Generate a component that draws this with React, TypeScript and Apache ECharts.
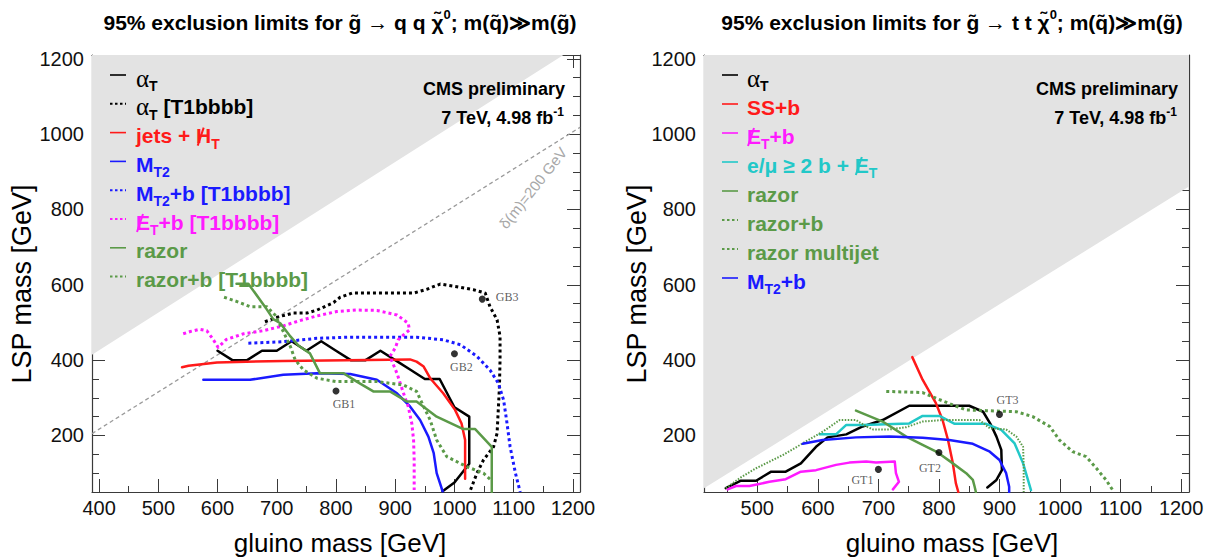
import React, { useEffect, useRef } from "react";
import * as echarts from "echarts";

// ---------- axes ----------
const leftXRange = [388, 1212];
const rightXRange = [412, 1213];
const yRange = [50, 1210];
const leftXLabels = [400, 500, 600, 700, 800, 900, 1000, 1100, 1200];
const leftXMinor = [400, 450, 500, 550, 600, 650, 700, 750, 800, 850, 900, 950, 1000, 1050, 1100, 1150, 1200];
const rightXLabels = [500, 600, 700, 800, 900, 1000, 1100, 1200];
const rightXMinor = [450, 500, 550, 600, 650, 700, 750, 800, 850, 900, 950, 1000, 1050, 1100, 1150, 1200];
const yLabels = [200, 400, 600, 800, 1000, 1200];
const yMinor = [50, 100, 150, 200, 250, 300, 350, 400, 450, 500, 550, 600, 650, 700, 750, 800, 850, 900, 950, 1000, 1050, 1100, 1150, 1200];

// ---------- left panel: gluino -> q q chi0 ----------
const leftKinematic = [[388, 414], [1212, 1238]];
const leftDeltaM = [[388, 205], [1212, 1018]];
const leftAlphaT = [[600, 425], [625, 400], [650, 400], [675, 425], [700, 425], [725, 450], [750, 425], [775, 450], [800, 425], [825, 400], [850, 400], [875, 425], [900, 400], [925, 375], [950, 350], [975, 350], [1000, 275], [1025, 250], [1025, 125], [1000, 75], [980, 52]];
const leftAlphaTbbbb = [[680, 502], [705, 516], [728, 525], [751, 525], [768, 533], [796, 553], [807, 567], [827, 578], [880, 578], [931, 578], [953, 588], [976, 602], [1004, 595], [1032, 587], [1052, 578], [1060, 542], [1072, 507], [1077, 463], [1077, 401], [1076, 330], [1074, 268], [1072, 206], [1066, 170], [1049, 135], [1038, 100], [1027, 55]];
const leftJetsHT = [[540, 381], [551, 385], [599, 394], [711, 398], [925, 402], [936, 396], [948, 383], [959, 352], [981, 312], [1001, 268], [1012, 232], [1018, 188], [1018, 85]];
const leftMT2 = [[576, 348], [655, 348], [711, 361], [768, 365], [824, 363], [869, 348], [903, 312], [925, 277], [942, 241], [956, 197], [965, 153], [970, 100], [980, 52]];
const leftMT2b = [[652, 445], [711, 449], [768, 458], [824, 461], [880, 461], [936, 461], [981, 454], [1010, 441], [1038, 410], [1060, 374], [1074, 339], [1083, 294], [1088, 241], [1094, 170], [1103, 100], [1111, 50]];
const leftMETb = [[542, 470], [554, 476], [570, 482], [582, 478], [593, 454], [601, 434], [615, 455], [644, 470], [677, 478], [711, 491], [739, 505], [767, 517], [801, 529], [835, 533], [869, 532], [903, 520], [922, 498], [924, 480], [914, 467], [905, 454], [900, 432], [891, 410], [903, 365], [914, 312], [922, 277], [928, 232], [931, 188], [932, 135], [932, 55]];
const leftRazor = [[632, 603], [652, 603], [680, 542], [694, 509], [706, 498], [723, 463], [737, 438], [756, 418], [773, 365], [813, 365], [835, 343], [863, 317], [891, 317], [920, 290], [936, 290], [970, 250], [1015, 217], [1035, 217], [1063, 170], [1063, 50]];
const leftRazorB = [[611, 567], [632, 556], [655, 542], [683, 542], [697, 520], [711, 476], [723, 436], [731, 401], [745, 374], [768, 352], [801, 343], [869, 343], [914, 334], [936, 317], [948, 277], [959, 241], [970, 188], [987, 144], [1021, 117], [1049, 100], [1063, 80]];
const leftPoints = [["GB1", 800, 318], ["GB2", 1000, 417], ["GB3", 1047, 562]];
const leftLegend = [
  "{a|α}{s|T}",
  "{a|α}{s|T}{n| [T1bbbb]}",
  "{n|jets + H\u0338}{s|T}",
  "{n|M}{s|T2}",
  "{n|M}{s|T2}{n|+b [T1bbbb]}",
  "{n|E\u0338}{s|T}{n|+b [T1bbbb]}",
  "{n|razor}",
  "{n|razor+b [T1bbbb]}",
];

// ---------- right panel: gluino -> t t chi0 ----------
const rightKinematic = [[412, 60], [1213, 861]];
const rightAlphaT = [[448, 60], [473, 80], [498, 80], [523, 104], [547, 104], [572, 126], [597, 170], [616, 195], [647, 203], [674, 224], [707, 241], [751, 279], [850, 279], [873, 263], [886, 228], [895, 197], [903, 162], [904, 108], [895, 82], [880, 62]];
const rightSSb = [[756, 408], [773, 348], [795, 286], [806, 241], [815, 188], [823, 126], [828, 73], [832, 50]];
const rightMETb = [[451, 57], [465, 66], [487, 66], [520, 77], [547, 84], [572, 104], [597, 108], [630, 122], [652, 128], [680, 131], [696, 128], [727, 131], [729, 100], [734, 77], [724, 57]];
const rightLepton = [[603, 203], [630, 203], [647, 228], [674, 228], [751, 232], [773, 252], [801, 252], [826, 231], [878, 231], [903, 215], [925, 179], [939, 126], [952, 55]];
const rightRazor = [[663, 266], [707, 237], [746, 197], [773, 175], [798, 155], [823, 126], [845, 100], [856, 82], [859, 64], [861, 50]];
const rightRazorB = [[713, 317], [773, 314], [795, 299], [823, 281], [845, 268], [878, 266], [928, 263], [955, 250], [983, 224], [999, 188], [1021, 157], [1043, 144], [1060, 113], [1076, 82], [1087, 55]];
const rightRazorMJ = [[448, 60], [473, 89], [498, 113], [542, 148], [575, 179], [608, 210], [636, 241], [663, 241], [680, 224], [691, 216], [718, 216], [746, 222], [773, 237], [806, 241], [867, 241], [884, 219], [911, 216], [928, 197], [939, 170], [940, 117], [940, 50]];
const rightMT2b = [[575, 178], [608, 188], [663, 195], [718, 197], [773, 194], [817, 188], [856, 178], [884, 157], [900, 135], [911, 100], [916, 64], [916, 50]];
const rightPoints = [["GT1", 700, 110], ["GT2", 800, 155], ["GT3", 900, 256]];
const rightLegend = [
  "{a|α}{s|T}",
  "{n|SS+b}",
  "{n|E\u0338}{s|T}{n|+b}",
  "{n|e/μ ≥ 2 b + E\u0338}{s|T}",
  "{n|razor}",
  "{n|razor+b}",
  "{n|razor multijet}",
  "{n|M}{s|T2}{n|+b}",
];

const leftTitle = "{t|95% exclusion limits for g\u0303 → q q χ\u0303}{p|0}{t|; m(q\u0303)≫m(g\u0303)}";
const rightTitle = "{t|95% exclusion limits for g\u0303 → t t χ\u0303}{p|0}{t|; m(q\u0303)≫m(g\u0303)}";
const xName = "gluino mass [GeV]";
const yName = "LSP mass [GeV]";
const cmsText = "CMS preliminary";
const lumiText = "{n|7 TeV, 4.98 fb}{p|-1}";
const deltaMText = "δ(m)=200 GeV";

// ---------- styles ----------
const SANS = "'Liberation Sans', Arial, Helvetica, sans-serif";
const SERIF = "'Liberation Serif', 'Times New Roman', serif";
const BLACK = "#000000";
const RED = "#ff1a1a";
const BLUE = "#1a1aff";
const MAGENTA = "#ff1aff";
const GREEN = "#5b9a48";
const CYAN = "#22c8c8";
const AXIS = "#3a3a3a";
const DOT: number[] = [3, 3];
const FINE: number[] = [1.5, 1.5];

const LG = { left: 92, top: 55, width: 488, height: 437 };
const RG = { left: 704, top: 55, width: 485, height: 437 };

const LEG = { n: 21, a: 25, s: 14, lh: 30 };
const legFonts: Record<string, string> = {
  n: `bold ${LEG.n}px ${SANS}`,
  a: `normal ${LEG.a}px ${SERIF}`,
  s: `bold ${LEG.s}px ${SANS}`,
};

let measureCtx: CanvasRenderingContext2D | null = null;
function textWidth(s: string, font: string) {
  if (!measureCtx) measureCtx = document.createElement("canvas").getContext("2d");
  if (!measureCtx) return s.length * 10;
  measureCtx.font = font;
  return measureCtx.measureText(s).width;
}

function labelFmt(v: number) {
  return String(v);
}

function xAxes(grid: number, range: number[], labels: number[], minor: number[]) {
  const base = {
    type: "value", gridIndex: grid, min: range[0], max: range[1],
    splitLine: { show: false },
  };
  const line = { show: true, onZero: false, lineStyle: { color: AXIS, width: 1.2 } };
  const noLine = { show: false, onZero: false };
  return [
    { ...base, position: "bottom", axisLine: line,
      axisTick: { show: true, inside: true, length: 13, customValues: labels, lineStyle: { color: AXIS, width: 1 } },
      axisLabel: { show: true, customValues: labels, formatter: labelFmt, fontFamily: SANS, fontSize: 20, color: "#111", margin: 6 } },
    { ...base, position: "bottom", axisLine: noLine,
      axisTick: { show: true, inside: true, length: 6, customValues: minor, lineStyle: { color: AXIS, width: 1 } },
      axisLabel: { show: false } },
    { ...base, position: "top", axisLine: line,
      axisTick: { show: true, inside: true, length: 13, customValues: labels, lineStyle: { color: AXIS, width: 1 } },
      axisLabel: { show: false } },
    { ...base, position: "top", axisLine: noLine,
      axisTick: { show: true, inside: true, length: 6, customValues: minor, lineStyle: { color: AXIS, width: 1 } },
      axisLabel: { show: false } },
  ];
}

function yAxes(grid: number) {
  const base = {
    type: "value", gridIndex: grid, min: yRange[0], max: yRange[1],
    splitLine: { show: false },
  };
  const line = { show: true, onZero: false, lineStyle: { color: AXIS, width: 1.2 } };
  const noLine = { show: false, onZero: false };
  return [
    { ...base, position: "left", axisLine: line,
      axisTick: { show: true, inside: true, length: 13, customValues: yLabels, lineStyle: { color: AXIS, width: 1 } },
      axisLabel: { show: true, customValues: yLabels, formatter: labelFmt, fontFamily: SANS, fontSize: 20, color: "#111", margin: 8 } },
    { ...base, position: "left", axisLine: noLine,
      axisTick: { show: true, inside: true, length: 7, customValues: yMinor, lineStyle: { color: AXIS, width: 1 } },
      axisLabel: { show: false } },
    { ...base, position: "right", axisLine: line,
      axisTick: { show: true, inside: true, length: 13, customValues: yLabels, lineStyle: { color: AXIS, width: 1 } },
      axisLabel: { show: false } },
    { ...base, position: "right", axisLine: noLine,
      axisTick: { show: true, inside: true, length: 7, customValues: yMinor, lineStyle: { color: AXIS, width: 1 } },
      axisLabel: { show: false } },
  ];
}

function curve(data: number[][], color: string, width: number, dash: number[] | null, axis: number, z = 5) {
  return {
    type: "line", data, xAxisIndex: axis, yAxisIndex: axis, symbol: "none", showSymbol: false,
    silent: true, clip: true, z,
    lineStyle: { color, width, type: dash ? dash : "solid", cap: dash ? "butt" : "round", join: "round" },
  };
}

function area(data: number[][], axis: number) {
  return {
    type: "line", data, xAxisIndex: axis, yAxisIndex: axis, symbol: "none", showSymbol: false,
    silent: true, clip: true, z: 1,
    lineStyle: { width: 0, color: "#e3e3e3" },
    areaStyle: { color: "#e3e3e3", opacity: 1, origin: "end" },
  };
}

function points(pts: any[], axis: number, offsets: any[]) {
  return {
    type: "scatter", xAxisIndex: axis, yAxisIndex: axis, symbolSize: 7, silent: true, z: 8,
    itemStyle: { color: "#000" },
    data: pts.map((p, i) => ({
      value: [p[1], p[2]], name: p[0],
      label: {
        show: true, formatter: p[0], position: offsets[i].pos, offset: offsets[i].off,
        fontFamily: SERIF, fontSize: 12, color: "#333",
      },
    })),
  };
}

const leftStyles = [
  { c: BLACK, d: null, w: 2.5 },
  { c: BLACK, d: DOT, w: 3 },
  { c: RED, d: null, w: 2.5 },
  { c: BLUE, d: null, w: 2.5 },
  { c: BLUE, d: DOT, w: 3 },
  { c: MAGENTA, d: DOT, w: 3 },
  { c: GREEN, d: null, w: 2.5 },
  { c: GREEN, d: DOT, w: 3 },
];
const rightStyles = [
  { c: BLACK, d: null, w: 2.5 },
  { c: RED, d: null, w: 2.5 },
  { c: MAGENTA, d: null, w: 2.5 },
  { c: CYAN, d: null, w: 2.5 },
  { c: GREEN, d: null, w: 2.5 },
  { c: GREEN, d: DOT, w: 3 },
  { c: GREEN, d: FINE, w: 2 },
  { c: BLUE, d: null, w: 2.5 },
];

// strip the slash marker and find where the slashed letter sits
function parseLabel(lab: string) {
  const re = /\{(\w+)\|([^}]*)\}/g;
  let m: RegExpExecArray | null;
  let acc = 0;
  let out = "";
  const slashes: number[] = [];
  while ((m = re.exec(lab)) !== null) {
    const style = m[1];
    let content = m[2];
    const font = legFonts[style];
    const k = content.indexOf("\u0338");
    if (k > 0) {
      const pre = content.slice(0, k - 1);
      const ch = content[k - 1];
      slashes.push(acc + textWidth(pre, font) + textWidth(ch, font) / 2);
      content = content.replace("\u0338", "");
    }
    acc += textWidth(content, font);
    out += `{${style}|${content}}`;
  }
  return { text: out, slashes };
}

function legend(labels: string[], styles: any[], x0: number, y0: number, step: number, tx: number) {
  const els: any[] = [];
  labels.forEach((lab, i) => {
    const st = styles[i];
    const y = y0 + i * step;
    els.push({
      type: "line", silent: true, z: 20,
      shape: { x1: x0, y1: y, x2: x0 + 16, y2: y },
      style: { stroke: st.c, lineWidth: st.d ? 2 : 1.6, lineDash: st.d ? [2.5, 2.5] : null },
    });
    const rich = {
      n: { fontFamily: SANS, fontWeight: "bold", fontSize: LEG.n, lineHeight: LEG.lh, fill: st.c, color: st.c },
      a: { fontFamily: SERIF, fontWeight: "normal", fontSize: LEG.a, lineHeight: LEG.lh, fill: st.c, color: st.c },
      s: { fontFamily: SANS, fontWeight: "bold", fontSize: LEG.s, lineHeight: LEG.s, verticalAlign: "bottom", fill: st.c, color: st.c },
    };
    const parsed = parseLabel(lab);
    const ty = y + 3;
    els.push({
      type: "text", silent: true, z: 20, x: tx, y: ty,
      style: {
        text: parsed.text, rich, fill: st.c, fontFamily: SANS, fontWeight: "bold", fontSize: LEG.n,
        textAlign: "left", align: "left", textVerticalAlign: "middle", verticalAlign: "middle",
      },
    });
    parsed.slashes.forEach((sx) => {
      const cx = tx + sx;
      els.push({
        type: "line", silent: true, z: 21,
        shape: { x1: cx - 6, y1: ty + 10, x2: cx, y2: ty - 8 },
        style: { stroke: st.c, lineWidth: 2 },
      });
    });
  });
  return els;
}

function txt(x: number, y: number, text: string, opts: any) {
  const { rotation, ...style } = opts;
  return {
    type: "text", silent: true, z: 20, x, y, rotation: rotation || 0,
    style: {
      text, fill: "#000", fontFamily: SANS,
      textAlign: "center", textVerticalAlign: "middle",
      align: "center", verticalAlign: "middle",
      ...style,
    },
  };
}

function buildOption() {
  const titleRich = {
    t: { fontFamily: SANS, fontWeight: "bold", fontSize: 21, lineHeight: 28, fill: "#000", color: "#000" },
    p: { fontFamily: SANS, fontWeight: "bold", fontSize: 13, lineHeight: 13, verticalAlign: "top", fill: "#000", color: "#000" },
  };
  const lumiRich = {
    n: { fontFamily: SANS, fontWeight: "bold", fontSize: 18, lineHeight: 24, fill: "#000", color: "#000" },
    p: { fontFamily: SANS, fontWeight: "bold", fontSize: 12, lineHeight: 12, verticalAlign: "top", fill: "#000", color: "#000" },
  };
  const R = { align: "right", textAlign: "right" };
  const graphic: any[] = [
    txt(340, 22, leftTitle, { rich: titleRich, fontWeight: "bold", fontSize: 21 }),
    txt(952, 22, rightTitle, { rich: titleRich, fontWeight: "bold", fontSize: 21 }),
    txt(340, 543, xName, { fontSize: 26 }),
    txt(952, 543, xName, { fontSize: 26 }),
    txt(22, 284, yName, { fontSize: 27, rotation: Math.PI / 2 }),
    txt(637, 284, yName, { fontSize: 27, rotation: Math.PI / 2 }),
    txt(565, 89, cmsText, { fontSize: 18, fontWeight: "bold", ...R }),
    txt(564, 118, lumiText, { rich: lumiRich, fontSize: 18, fontWeight: "bold", ...R }),
    txt(1178, 89, cmsText, { fontSize: 18, fontWeight: "bold", ...R }),
    txt(1177, 118, lumiText, { rich: lumiRich, fontSize: 18, fontWeight: "bold", ...R }),
    txt(533, 188, deltaMText, { fontSize: 15, fill: "#a8a8a8", rotation: 0.9 }),
    ...legend(leftLegend, leftStyles, 110, 75, 28.8, 136),
    ...legend(rightLegend, rightStyles, 722, 75, 29, 747),
  ];

  const leftData = [leftAlphaT, leftAlphaTbbbb, leftJetsHT, leftMT2, leftMT2b, leftMETb, leftRazor, leftRazorB];
  const rightData = [rightAlphaT, rightSSb, rightMETb, rightLepton, rightRazor, rightRazorB, rightRazorMJ, rightMT2b];
  const L = 0, RI = 4;
  const series: any[] = [
    area(leftKinematic, L),
    area(rightKinematic, RI),
    curve(leftDeltaM, "#9a9a9a", 1.3, [4, 3], L, 2),
  ];
  leftData.forEach((d, i) => series.push(curve(d, leftStyles[i].c, leftStyles[i].w, leftStyles[i].d, L)));
  rightData.forEach((d, i) => series.push(curve(d, rightStyles[i].c, rightStyles[i].w, rightStyles[i].d, RI)));
  series.push(points(leftPoints, L, [
    { pos: "bottom", off: [8, -2] }, { pos: "bottom", off: [7, -1] }, { pos: "right", off: [5, -2] },
  ]));
  series.push(points(rightPoints, RI, [
    { pos: "bottom", off: [-16, -4] }, { pos: "bottom", off: [-9, 1] }, { pos: "top", off: [8, 0] },
  ]));

  return {
    animation: false,
    backgroundColor: "#ffffff",
    grid: [
      { ...LG, containLabel: false },
      { ...RG, containLabel: false },
    ],
    xAxis: [
      ...xAxes(0, leftXRange, leftXLabels, leftXMinor),
      ...xAxes(1, rightXRange, rightXLabels, rightXMinor),
    ],
    yAxis: [...yAxes(0), ...yAxes(1)],
    series,
    graphic: { elements: graphic },
  };
}

export default function App() {
  const ref = useRef<HTMLDivElement>(null);
  useEffect(() => {
    if (!ref.current) return;
    const chart = echarts.init(ref.current, null, { renderer: "svg" });
    chart.setOption(buildOption() as any);
    return () => chart.dispose();
  }, []);
  return (
    <div
      ref={ref}
      style={{ position: "fixed", left: 0, top: 0, width: 1217, height: 560, background: "#fff" }}
    />
  );
}
